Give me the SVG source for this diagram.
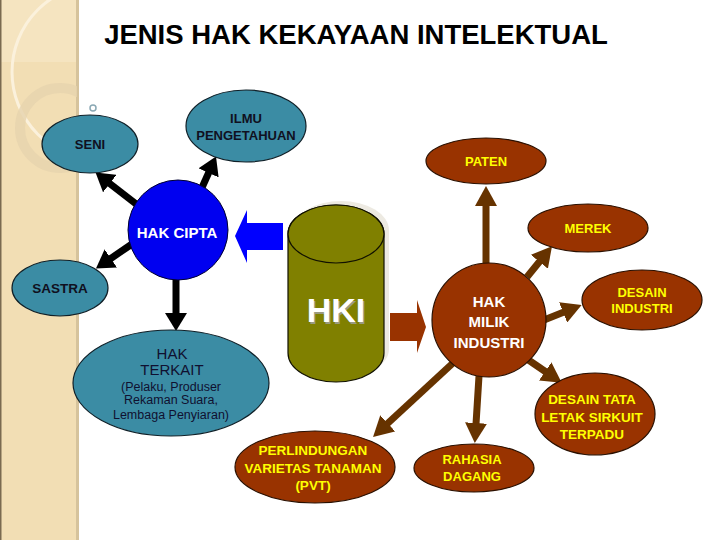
<svg xmlns="http://www.w3.org/2000/svg" width="720" height="540" viewBox="0 0 720 540">
<style>
  text { font-family: "Liberation Sans", Arial, sans-serif; text-anchor: middle; }
  .teal { fill: #3B8CA4; stroke: #102028; stroke-width: 1.2; }
  .brown { fill: #993300; stroke: #2a1000; stroke-width: 1.2; }
  .dk { fill: #101020; font-weight: bold; }
  .dkn { fill: #101030; }
  .yl { fill: #FFFF00; font-weight: bold; }
  .wh { fill: #FFFFFF; font-weight: bold; }
  .blk { stroke: #000; stroke-width: 7; fill: none; }
  .brn { stroke: #663300; stroke-width: 7; fill: none; }
</style>
<defs>
  <marker id="hb" markerUnits="userSpaceOnUse" markerWidth="18" markerHeight="22" viewBox="0 0 18 22" refX="1" refY="11" orient="auto">
    <path d="M0,0 L18,11 L0,22 Z" fill="#000"/>
  </marker>
  <marker id="hn" markerUnits="userSpaceOnUse" markerWidth="20" markerHeight="22" viewBox="0 0 20 22" refX="1" refY="11" orient="auto">
    <path d="M0,0 L20,11 L0,22 Z" fill="#663300"/>
  </marker>
  <clipPath id="sb"><rect x="0" y="0" width="77" height="540"/></clipPath>
</defs>

<!-- background -->
<rect x="0" y="0" width="720" height="540" fill="#FFFFFF"/>
<g id="sidebar">
  <rect x="0" y="0" width="79" height="540" fill="#F2DEB4"/>
  <rect x="0" y="0" width="77" height="62" fill="#F5E4C0"/>
  <rect x="76" y="0" width="3" height="540" fill="#D6C39C"/>
  <rect x="0" y="0" width="1.5" height="540" fill="#7A6A50"/>
  <g clip-path="url(#sb)">
    <circle cx="100" cy="72" r="88" fill="none" stroke="#FBF1DC" stroke-width="3"/>
    <circle cx="60" cy="128" r="40" fill="none" stroke="#E6D3AE" stroke-width="10" opacity="0.8"/>
  </g>
  <circle cx="93" cy="108" r="3" fill="none" stroke="#8AA8B4" stroke-width="1.5"/>
</g>

<text x="356" y="44" font-size="27.5" font-weight="bold" fill="#000">JENIS HAK KEKAYAAN INTELEKTUAL</text>

<g id="connectors">
  <path class="blk" d="M140,207 L109,183" marker-end="url(#hb)"/>
  <path class="blk" d="M200,192 L209,172" marker-end="url(#hb)"/>
  <path class="blk" d="M132,244 L110,259" marker-end="url(#hb)"/>
  <path class="blk" d="M176,279 L176,314" marker-end="url(#hb)"/>
  <path class="brn" d="M486,264 L486,205" marker-end="url(#hn)"/>
  <path class="brn" d="M527,277 L540,261" marker-end="url(#hn)"/>
  <path class="brn" d="M544,320 L564,312" marker-end="url(#hn)"/>
  <path class="brn" d="M527,359 L546,372" marker-end="url(#hn)"/>
  <path class="brn" d="M453,363 L387,424" marker-end="url(#hn)"/>
  <path class="brn" d="M479,376 L476,424" marker-end="url(#hn)"/>
  <polygon points="235,236 247,210 247,223 283,223 283,250 247,250 247,263" fill="#0000FF"/>
  <polygon points="390,313 417,313 417,300 426,327 417,353 417,341 390,341" fill="#993300"/>
</g>

<g id="seni">
  <ellipse class="teal" cx="90" cy="144" rx="48" ry="29"/>
  <text class="dk" x="90" y="149" font-size="13">SENI</text>
</g>
<g id="ilmu">
  <ellipse class="teal" cx="246" cy="126" rx="60" ry="36"/>
  <text class="dk" x="246" y="123" font-size="13">ILMU</text>
  <text class="dk" x="246" y="140" font-size="13">PENGETAHUAN</text>
</g>
<g id="hakcipta">
  <circle cx="178" cy="230" r="50" fill="#0000F0" stroke="#000030" stroke-width="1"/>
  <text class="wh" x="177" y="238" font-size="15">HAK CIPTA</text>
</g>
<g id="sastra">
  <ellipse class="teal" cx="60" cy="288" rx="48" ry="28"/>
  <text class="dk" x="60" y="293" font-size="13.5">SASTRA</text>
</g>
<g id="hakterkait">
  <ellipse class="teal" cx="171" cy="383" rx="98" ry="53"/>
  <text class="dkn" x="172" y="359" font-size="15">HAK</text>
  <text class="dkn" x="172" y="375" font-size="15">TERKAIT</text>
  <text class="dkn" x="171" y="391" font-size="12.5">(Pelaku, Produser</text>
  <text class="dkn" x="171" y="404" font-size="12.5">Rekaman Suara,</text>
  <text class="dkn" x="171" y="419" font-size="12.5">Lembaga Penyiaran)</text>
</g>
<g id="hki">
  <path d="M293,230 L293,349 A48,29 0 0 0 389,349 L389,230 A48,29 0 0 0 293,230 Z" fill="#EDEAE2"/>
  <path d="M288,234 L288,353 A48,29 0 0 0 384,353 L384,234 A48,29 0 0 0 288,234 Z" fill="#808000" stroke="#101000" stroke-width="1.2"/>
  <ellipse cx="336" cy="234" rx="48" ry="29" fill="#808000" stroke="#101000" stroke-width="1.2"/>
  <text x="337.5" y="323.5" font-size="34" font-weight="bold" fill="#9a9a80">HKI</text>
  <text x="336" y="322" font-size="34" font-weight="bold" fill="#FFFFFF">HKI</text>
</g>
<g id="hakmilik">
  <circle cx="489" cy="320" r="57" class="brown"/>
  <text class="wh" x="489" y="307" font-size="15">HAK</text>
  <text class="wh" x="489" y="327" font-size="15">MILIK</text>
  <text class="wh" x="489" y="348" font-size="15">INDUSTRI</text>
</g>
<g id="paten">
  <ellipse class="brown" cx="486" cy="161" rx="60" ry="23"/>
  <text class="yl" x="486" y="166" font-size="13">PATEN</text>
</g>
<g id="merek">
  <ellipse class="brown" cx="588" cy="228" rx="60" ry="24"/>
  <text class="yl" x="588" y="233" font-size="13">MEREK</text>
</g>
<g id="desainindustri">
  <ellipse class="brown" cx="642" cy="300" rx="60" ry="30"/>
  <text class="yl" x="642" y="297" font-size="13">DESAIN</text>
  <text class="yl" x="642" y="313" font-size="13">INDUSTRI</text>
</g>
<g id="desaintata">
  <ellipse class="brown" cx="595" cy="414" rx="60" ry="41"/>
  <text class="yl" x="592" y="404" font-size="13.5">DESAIN TATA</text>
  <text class="yl" x="592" y="422" font-size="13.5">LETAK SIRKUIT</text>
  <text class="yl" x="592" y="439" font-size="13.5">TERPADU</text>
</g>
<g id="pvt">
  <ellipse class="brown" cx="315" cy="467" rx="80" ry="36"/>
  <text class="yl" x="313" y="455" font-size="13.5">PERLINDUNGAN</text>
  <text class="yl" x="313" y="473" font-size="13.5">VARIETAS TANAMAN</text>
  <text class="yl" x="313" y="490" font-size="13.5">(PVT)</text>
</g>
<g id="rahasia">
  <ellipse class="brown" cx="474" cy="468" rx="60" ry="24"/>
  <text class="yl" x="472" y="464" font-size="13">RAHASIA</text>
  <text class="yl" x="472" y="481" font-size="13">DAGANG</text>
</g>
</svg>
